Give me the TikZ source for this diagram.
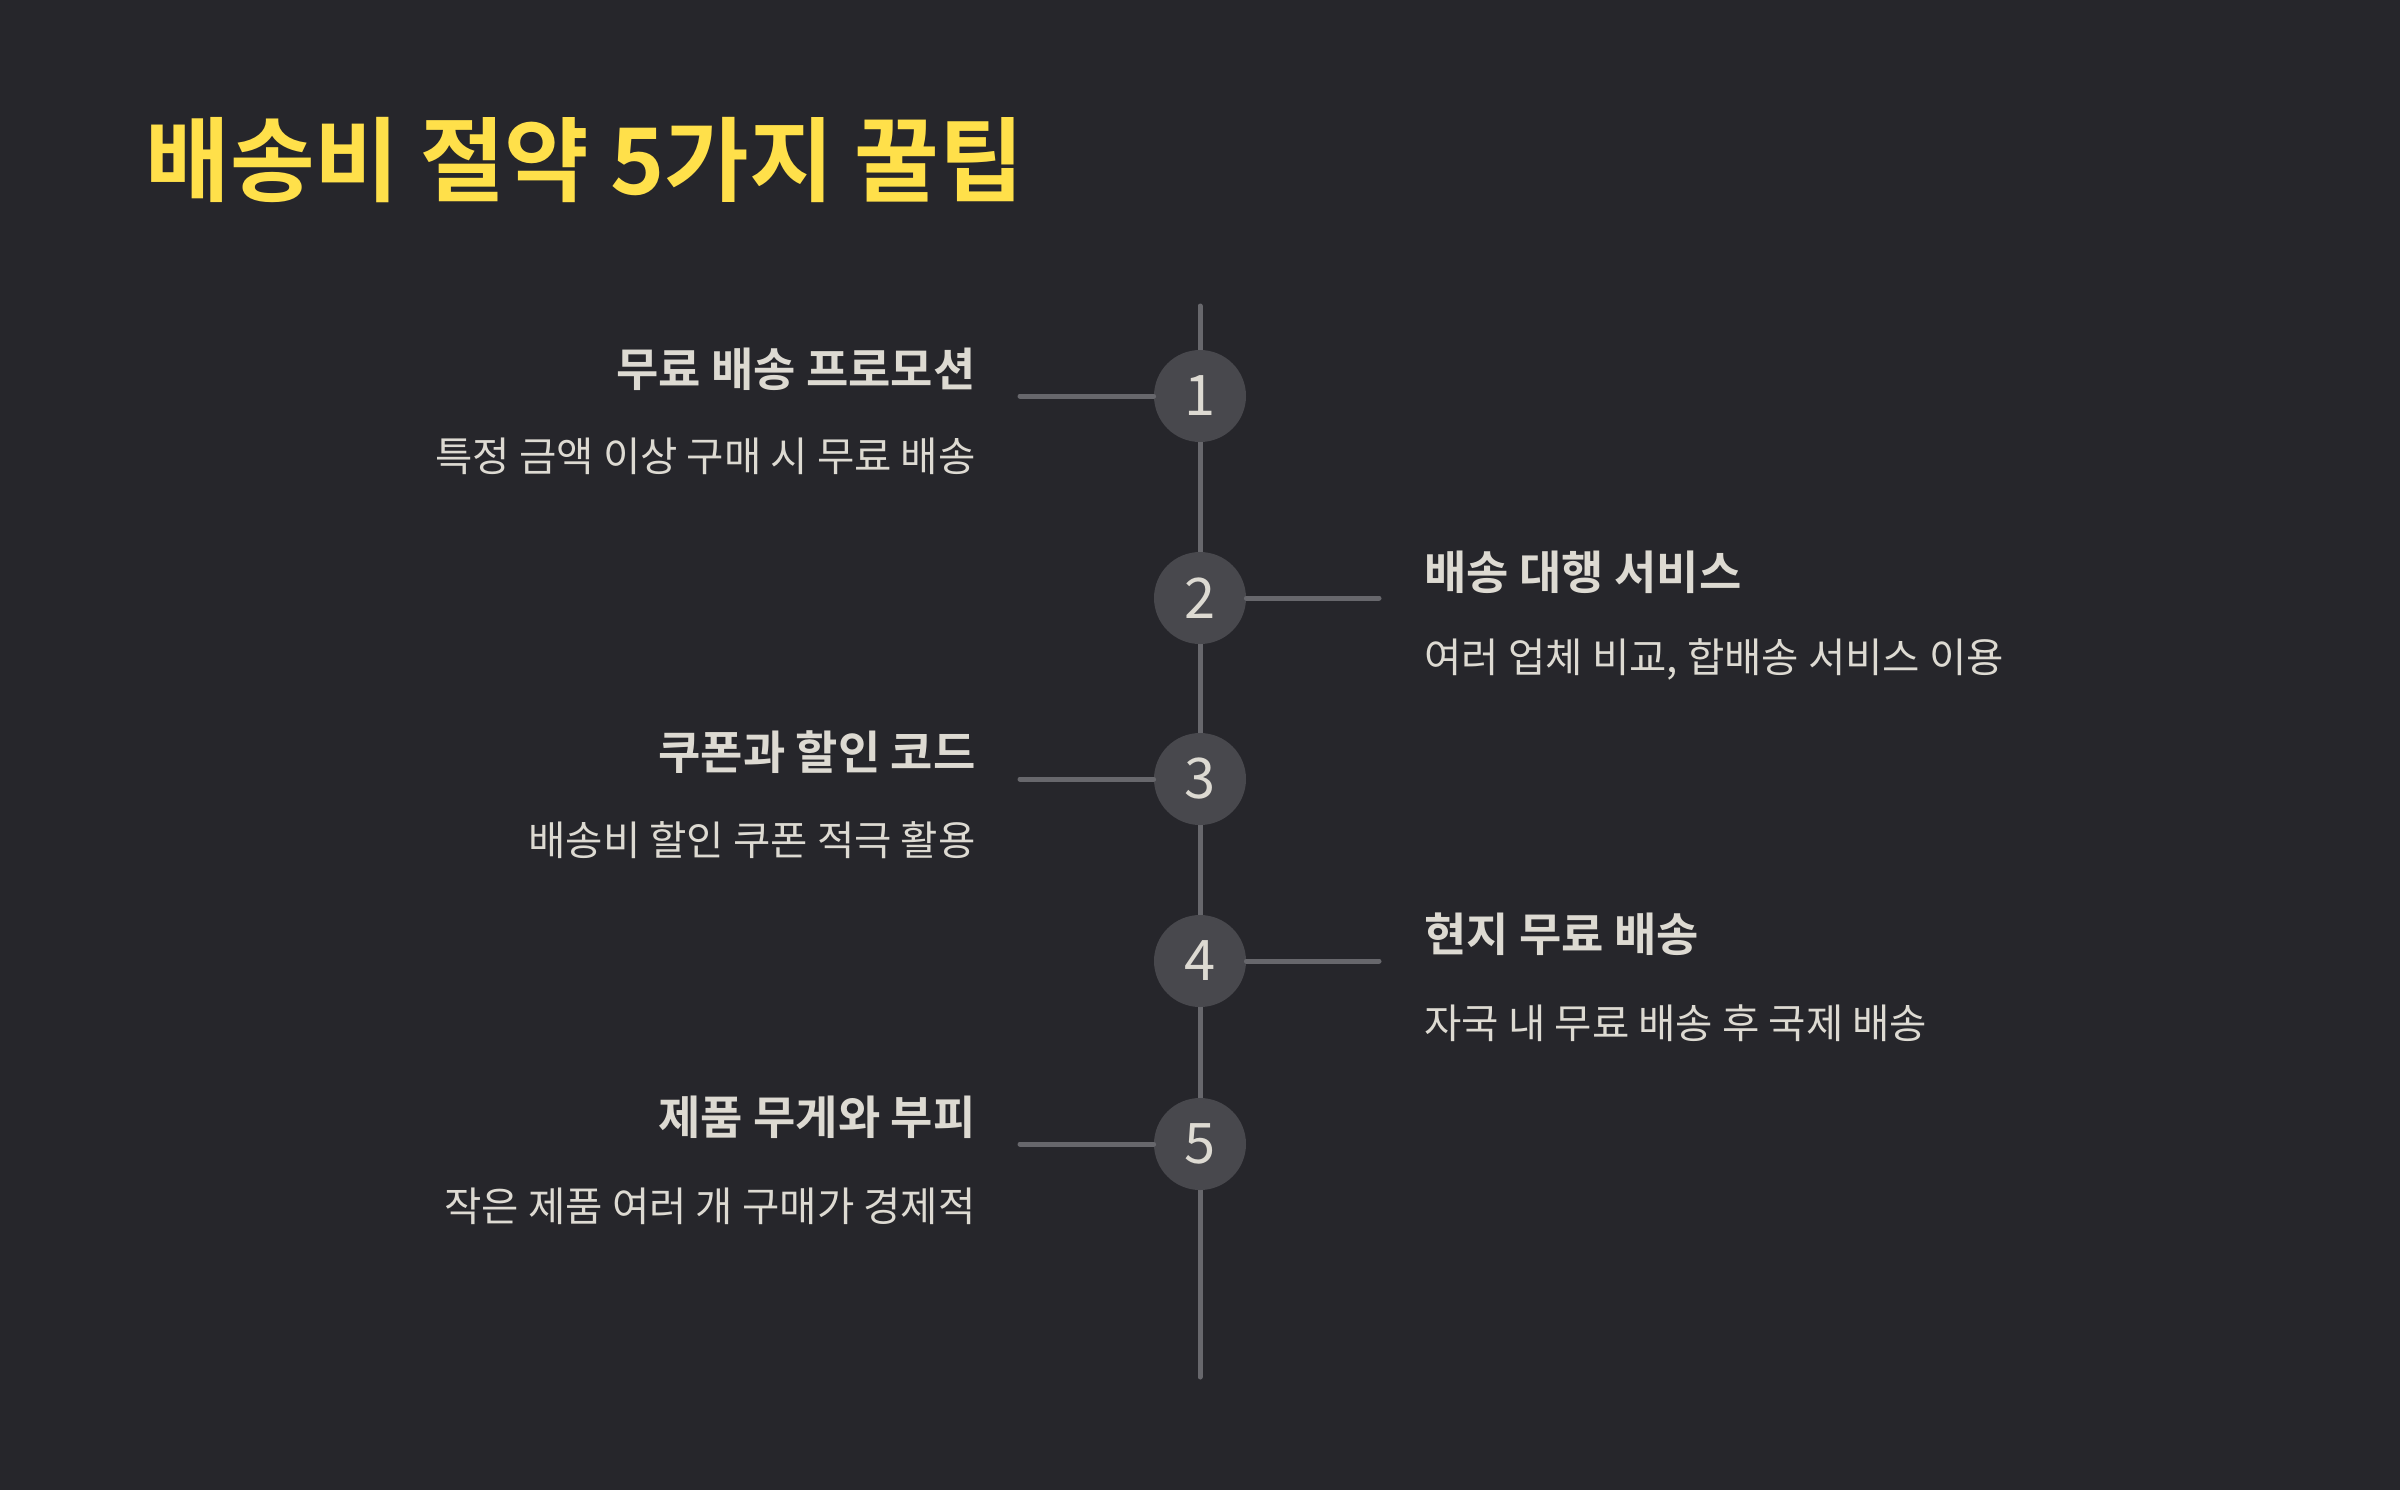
\documentclass[tikz,border=0pt]{standalone}
\usepackage{fontspec}
\setmainfont{Noto Sans CJK KR}
\newfontfamily\krbold{Noto Sans CJK KR Bold}
\newfontfamily\kr{Noto Sans CJK KR}
\definecolor{bg}{HTML}{26262B}
\definecolor{circ}{HTML}{48484D}
\definecolor{linec}{HTML}{67676C}
\definecolor{txt}{HTML}{DDDAD2}
\definecolor{ttl}{HTML}{FFE04A}
\tikzset{
  px/.style={x=0.5pt,y=-0.5pt},
  numcirc/.style={circle,fill=circ,minimum size=46pt,inner sep=0pt,text=txt,font=\kr\fontsize{28}{28}\selectfont},
  conn/.style={draw=linec,line width=2.5pt,line cap=round},
  headl/.style={anchor=east,text=txt,font=\krbold\fontsize{23}{23}\selectfont,inner sep=0pt},
  headr/.style={anchor=west,text=txt,font=\krbold\fontsize{23}{23}\selectfont,inner sep=0pt},
  descl/.style={anchor=east,text=txt,font=\kr\fontsize{20.3}{20.3}\selectfont,inner sep=0pt},
  descr/.style={anchor=west,text=txt,font=\kr\fontsize{20.3}{20.3}\selectfont,inner sep=0pt},
}
\begin{document}
\begin{tikzpicture}[px]
\path[fill=bg,use as bounding box] (0,0) rectangle (2400,1490);
\node[anchor=west,text=ttl,font=\krbold\fontsize{46}{46}\selectfont,inner sep=0pt] (title) at (145,160) {배송비 절약 5가지 꿀팁};
\coordinate (top) at (1200,306);
\coordinate (bot) at (1200,1377);
\draw[conn] (top) -- (bot);
\node[numcirc] (c1) at (1200,396) {1};
\node[numcirc] (c2) at (1200,598) {2};
\node[numcirc] (c3) at (1200,779) {3};
\node[numcirc] (c4) at (1200,961) {4};
\node[numcirc] (c5) at (1200,1144) {5};
\coordinate (l1) at (1020,396);
\coordinate (r2) at (1379,598);
\coordinate (l3) at (1020,779);
\coordinate (r4) at (1379,961);
\coordinate (l5) at (1020,1144);
\draw[conn] (l1) -- (c1.west);
\draw[conn] (c2.east) -- (r2);
\draw[conn] (l3) -- (c3.west);
\draw[conn] (c4.east) -- (r4);
\draw[conn] (l5) -- (c5.west);
\node[headl] (h1) at (976,369) {무료 배송 프로모션};
\node[descl] (d1) at (976,456) {특정 금액 이상 구매 시 무료 배송};
\node[headr] (h2) at (1424,572) {배송 대행 서비스};
\node[descr] (d2) at (1424,659) {여러 업체 비교, 합배송 서비스 이용};
\node[headl] (h3) at (976,752) {쿠폰과 할인 코드};
\node[descl] (d3) at (976,840) {배송비 할인 쿠폰 적극 활용};
\node[headr] (h4) at (1424,934) {현지 무료 배송};
\node[descr] (d4) at (1424,1023) {자국 내 무료 배송 후 국제 배송};
\node[headl] (h5) at (976,1117) {제품 무게와 부피};
\node[descl] (d5) at (976,1206) {작은 제품 여러 개 구매가 경제적};
\end{tikzpicture}
\end{document}
